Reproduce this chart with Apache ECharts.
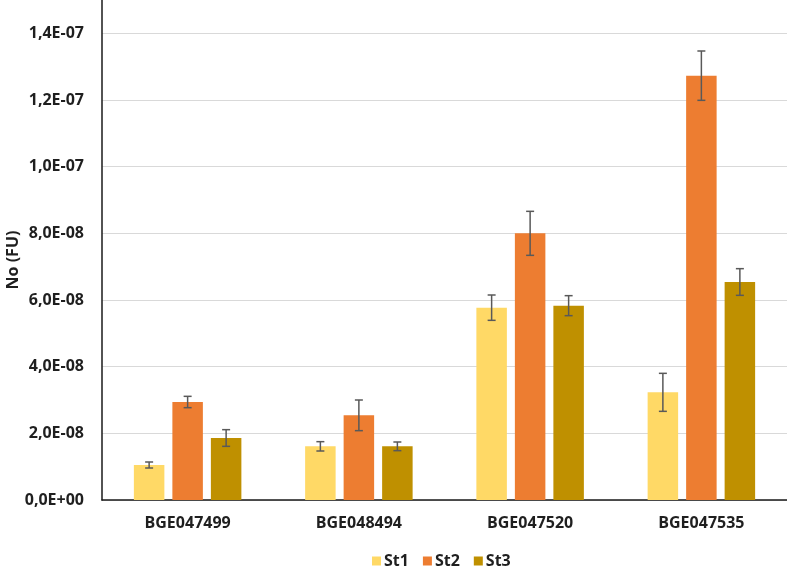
<!DOCTYPE html>
<html>
<head>
<meta charset="utf-8">
<script src="https://cdn.jsdelivr.net/npm/echarts@6/dist/echarts.min.js"></script>
<style>html,body{margin:0;padding:0;background:#fff}#c{width:787px;height:574px}</style>
</head>
<body>
<div id="c"></div>
<script>
const categories = ['BGE047499', 'BGE048494', 'BGE047520', 'BGE047535'];
const seriesNames = ['St1', 'St2', 'St3'];
const st1 = [1.05e-8, 1.61e-8, 5.77e-8, 3.23e-8];
const st2 = [2.94e-8, 2.54e-8, 8.00e-8, 12.73e-8];
const st3 = [1.86e-8, 1.61e-8, 5.83e-8, 6.54e-8];
const st1Err = [0.09e-8, 0.14e-8, 0.38e-8, 0.57e-8];
const st2Err = [0.17e-8, 0.46e-8, 0.66e-8, 0.74e-8];
const st3Err = [0.25e-8, 0.13e-8, 0.30e-8, 0.40e-8];
const yMin = 0, yMax = 1.5e-7, yInterval = 2e-8;

const values = [st1, st2, st3];
const errors = [st1Err, st2Err, st3Err];
const colors = ['#FFD966', '#ED7D31', '#BF9000'];
const FONT = '"Open Sans", Lato, sans-serif';
const TXT = '#1f1f1f';
const BAR_W = 30.5, BAR_GAP = 8;

function fmt(v) {
  if (Math.abs(v) < 1e-15) return '0,0E+00';
  let e = Math.floor(Math.log10(Math.abs(v)));
  let m = v / Math.pow(10, e);
  let ms = m.toFixed(1);
  if (ms === '10.0') { e += 1; ms = (v / Math.pow(10, e)).toFixed(1); }
  const sign = e < 0 ? '-' : '+';
  const ee = String(Math.abs(e)).padStart(2, '0');
  return ms.replace('.', ',') + 'E' + sign + ee;
}

const series = [];
seriesNames.forEach((name, i) => {
  series.push({
    name: name, type: 'bar', data: values[i], barWidth: BAR_W,
    barGap: (BAR_GAP / BAR_W * 100) + '%',
    itemStyle: { color: colors[i] }
  });
});
seriesNames.forEach((name, i) => {
  const errData = values[i].map((v, k) => [k, v - errors[i][k], v + errors[i][k]]);
  series.push({
    type: 'custom', name: name + ' err', z: 10, silent: true,
    data: errData,
    encode: { x: 0, y: [1, 2] },
    renderItem: function (params, api) {
      const k = api.value(0);
      const lo = api.coord([k, api.value(1)]);
      const hi = api.coord([k, api.value(2)]);
      const off = (i - 1) * (BAR_W + BAR_GAP);
      const x = lo[0] + off;
      const cap = 4;
      const st = { stroke: '#595959', lineWidth: 1.5 };
      return {
        type: 'group',
        children: [
          { type: 'line', shape: { x1: x, y1: lo[1], x2: x, y2: hi[1] }, style: st },
          { type: 'line', shape: { x1: x - cap, y1: lo[1], x2: x + cap, y2: lo[1] }, style: st },
          { type: 'line', shape: { x1: x - cap, y1: hi[1], x2: x + cap, y2: hi[1] }, style: st }
        ]
      };
    }
  });
});

const chart = echarts.init(document.getElementById('c'));
chart.setOption({
  animation: false,
  textStyle: { fontFamily: FONT },
  grid: { left: 102, right: 0, top: 0, bottom: 74, containLabel: false, outerBoundsMode: 'none' },
  legend: {
    data: seriesNames, bottom: 0, left: 367, itemWidth: 9, itemHeight: 9, itemGap: 14,
    icon: 'rect',
    textStyle: { fontFamily: FONT, fontSize: 16, fontWeight: 'bold', color: TXT, padding: [0, 0, 0, -2] }
  },
  xAxis: {
    type: 'category', data: categories,
    axisLine: { lineStyle: { color: '#1a1a1a', width: 1.5 } },
    axisTick: { show: false },
    axisLabel: { fontFamily: FONT, fontSize: 16, fontWeight: 'bold', color: TXT, margin: 15 }
  },
  yAxis: {
    type: 'value', min: yMin, max: yMax, interval: yInterval,
    name: 'No (FU)', nameLocation: 'middle', nameGap: 81, nameRotate: 90,
    nameMoveOverlap: false,
    nameTextStyle: { fontFamily: FONT, fontSize: 16, fontWeight: 'bold', color: TXT, padding: [0, 20, 0, 0] },
    axisLine: { show: true, lineStyle: { color: '#1a1a1a', width: 1.5 } },
    axisTick: { show: false },
    splitLine: { show: true, showMaxLine: false, lineStyle: { color: '#D9D9D9', width: 1.2 } },
    axisLabel: {
      fontFamily: FONT, fontSize: 16, fontWeight: 'bold', color: TXT, margin: 18,
      showMaxLabel: false,
      formatter: function (v) {
        const r = Math.round(v / yInterval);
        if (Math.abs(v - r * yInterval) > yInterval * 1e-6) return '';
        return fmt(v);
      }
    }
  },
  series: series
});
</script>
</body>
</html>
